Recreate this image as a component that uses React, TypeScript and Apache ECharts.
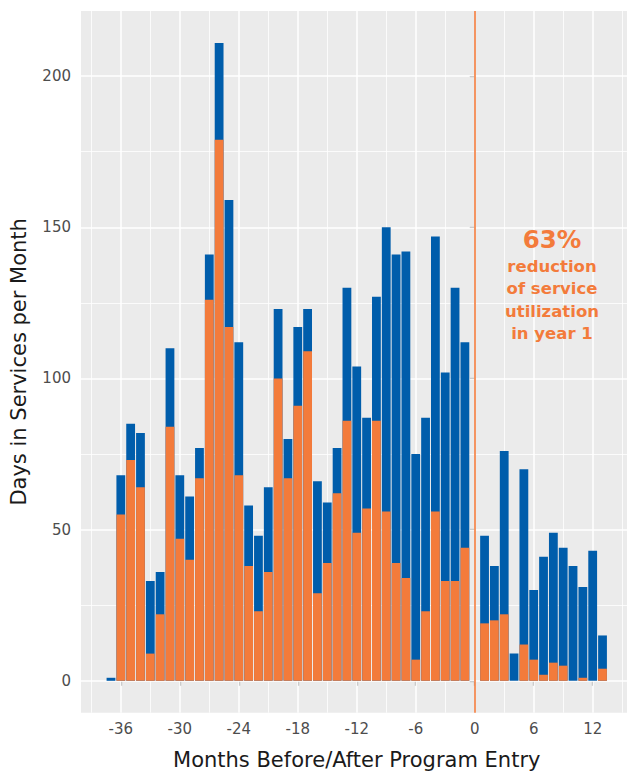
import React, { useEffect, useRef } from "react";
import * as echarts from "echarts";

const months = [
  -37, -36, -35, -34, -33, -32, -31, -30, -29, -28, -27, -26, -25, -24, -23, -22, -21, -20, -19,
  -18, -17, -16, -15, -14, -13, -12, -11, -10, -9, -8, -7, -6, -5, -4, -3, -2, -1, 0, 1, 2, 3, 4,
  5, 6, 7, 8, 9, 10, 11, 12, 13,
];
// total days in services (top of blue bar)
const totalDays = [
  1, 68, 85, 82, 33, 36, 110, 68, 61, 77, 141, 211, 159, 112, 58, 48, 64, 123, 80, 117, 123, 66,
  59, 77, 130, 104, 87, 127, 150, 141, 142, 75, 87, 147, 102, 130, 112, 0, 48, 38, 76, 9, 70, 30,
  41, 49, 44, 38, 31, 43, 15,
];
// orange portion (bottom part of each bar)
const orangeDays = [
  0, 55, 73, 64, 9, 22, 84, 47, 40, 67, 126, 179, 117, 68, 38, 23, 36, 100, 67, 91, 109, 29, 39,
  62, 86, 49, 57, 86, 56, 39, 34, 7, 23, 56, 33, 33, 44, 0, 19, 20, 22, 0, 12, 7, 2, 6, 5, 0, 1,
  0, 4,
];
const xTicks = [-36, -30, -24, -18, -12, -6, 0, 6, 12];
const xMinor = [-39, -33, -27, -21, -15, -9, -3, 3, 9, 15];
const yTicks = [0, 50, 100, 150, 200];
const yMinor = [25, 75, 125, 175];
const annotationBig = "63%";
const annotationLines = ["reduction", "of service", "utilization", "in year 1"];

const ORANGE = "#F37B3B";
const BLUE = "#005DAB";
const FONT = "DejaVu Sans";

export default function App() {
  const ref = useRef<HTMLDivElement>(null);
  useEffect(() => {
    if (!ref.current) return;
    const chart = echarts.init(ref.current, null, { renderer: "svg" });
    const gridLine = (v: number, axis: "xAxis" | "yAxis", w: number) => ({
      [axis]: v,
      lineStyle: { color: "#FFFFFF", width: w, type: "solid" },
    });
    const option: any = {
      animation: false,
      grid: {
        left: 81,
        top: 11,
        width: 551.5,
        height: 701.7,
        show: true,
        backgroundColor: "#EBEBEB",
        borderWidth: 0,
        containLabel: false,
        outerBoundsMode: "none",
      },
      xAxis: {
        type: "value",
        min: -40.05,
        max: 16.05,
        splitLine: { show: false },
        axisLine: { show: false },
        axisTick: {
          show: true,
          customValues: xTicks,
          length: 5,
          lineStyle: { color: "#333333", width: 1.1 },
        },
        axisLabel: {
          customValues: xTicks,
          color: "#4D4D4D",
          fontSize: 15,
          fontFamily: FONT,
          margin: 9,
        },
        name: "Months Before/After Program Entry",
        nameLocation: "middle",
        nameGap: 36.5,
        nameTextStyle: { color: "#1A1A1A", fontSize: 21, fontFamily: FONT },
      },
      yAxis: {
        type: "value",
        min: -10.55,
        max: 221.55,
        splitLine: { show: false },
        axisLine: { show: false },
        axisTick: {
          show: true,
          customValues: yTicks,
          length: 5,
          lineStyle: { color: "#333333", width: 1.1 },
        },
        axisLabel: {
          customValues: yTicks,
          color: "#4D4D4D",
          fontSize: 15,
          fontFamily: FONT,
          margin: 10,
        },
        name: "Days in Services per Month",
        nameLocation: "middle",
        nameGap: 51.5,
        nameTextStyle: { color: "#1A1A1A", fontSize: 21, fontFamily: FONT },
      },
      series: [
        {
          type: "line",
          data: [],
          silent: true,
          z: 1,
          markLine: {
            silent: true,
            z: 1,
            symbol: ["none", "none"],
            label: { show: false },
            animation: false,
            data: [
              ...xMinor.map((v) => gridLine(v, "xAxis", 0.8)),
              ...yMinor.map((v) => gridLine(v, "yAxis", 0.8)),
              ...xTicks.map((v) => gridLine(v, "xAxis", 1.5)),
              ...yTicks.map((v) => gridLine(v, "yAxis", 1.5)),
            ],
          },
        },
        {
          type: "bar",
          z: 2,
          barWidth: 8.8,
          barGap: "-100%",
          itemStyle: { color: BLUE },
          data: months.map((m, i) => [m, totalDays[i]]),
          markLine: {
            silent: true,
            z: 4,
            symbol: ["none", "none"],
            label: { show: false },
            animation: false,
            data: [{ xAxis: 0, lineStyle: { color: ORANGE, width: 1.6, type: "solid" } }],
          },
        },
        {
          type: "bar",
          z: 3,
          barWidth: 8.8,
          barGap: "-100%",
          itemStyle: { color: ORANGE },
          data: months.map((m, i) => [m, orangeDays[i]]),
        },
      ],
      graphic: [
        {
          type: "text",
          x: 552,
          y: 239,
          z: 10,
          style: {
            text: annotationBig,
            fill: ORANGE,
            font: `bold 24.5px ${FONT}`,
            align: "center",
            verticalAlign: "middle",
          },
        },
        ...annotationLines.map((t, i) => ({
          type: "text",
          x: 552,
          y: 266 + i * 22.5,
          z: 10,
          style: {
            text: t,
            fill: ORANGE,
            font: `bold 16.5px ${FONT}`,
            align: "center",
            verticalAlign: "middle",
          },
        })),
      ],
    };
    chart.setOption(option);
    return () => chart.dispose();
  }, []);
  return (
    <div
      ref={ref}
      style={{ position: "absolute", left: 0, top: 0, width: 627, height: 771, background: "#FFFFFF" }}
    />
  );
}
